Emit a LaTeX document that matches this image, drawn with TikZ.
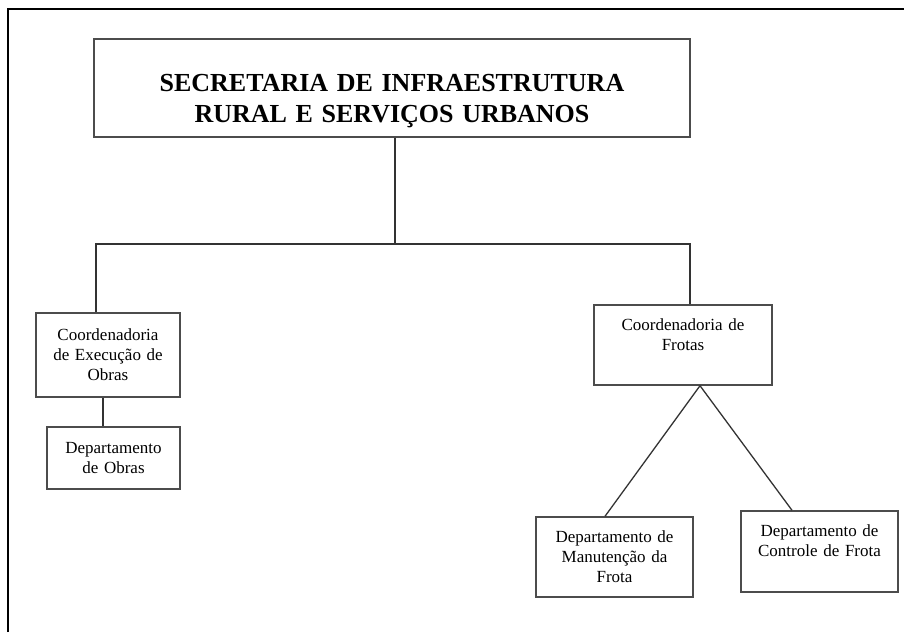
\documentclass[tikz,border=0pt]{standalone}
\usepackage{fontspec}
\setmainfont{Liberation Serif}
\usetikzlibrary{positioning}

\begin{document}
\begin{tikzpicture}[
        x=1pt, y=-1pt,
        box/.style={draw=black!70, line width=1.4pt, fill=white, inner xsep=3pt, inner ysep=0pt,
            align=center, font=\fontsize{17}{20}\selectfont},
        title/.style={box, font=\fontsize{26}{31}\selectfont\bfseries},
        link/.style={draw=black!80, line width=1.3pt}
    ]
    \useasboundingbox (0,0) rectangle (904,632);

    % Outer frame (cut at right and bottom)
    \draw[line width=2pt] (8,632) -- (8,9) -- (904,9);

    % Top box
    \node[title, text width=590pt, text height=52pt, text depth=46pt] (sec) at (392,88)
        {SECRETARIA DE INFRAESTRUTURA\\RURAL E SERVIÇOS URBANOS};

    % Left branch - Obras
    \node[box, text width=138pt, minimum height=84pt] (coe) at (108,355)
        {Coordenadoria\\de Execução de\\Obras};
    \node[box, text width=127pt, minimum height=62pt] (obras) at (113.5,458)
        {Departamento\\de Obras};

    % Right branch - Frotas
    \node[box, text width=172pt, text height=25pt, text depth=55pt] (cfr) at (683,345)
        {Coordenadoria de\\Frotas};
    \node[box, text width=151pt, minimum height=80pt] (dmf) at (614.5,557)
        {Departamento de\\Manutenção da\\Frota};
    \node[box, text width=151pt, text height=25pt, text depth=56pt] (dcf) at (819.5,551.5)
        {Departamento de\\Controle de Frota};

    % Bus
    \coordinate (busL) at (96,244);
    \coordinate (busR) at (690,244);
    \draw[link] ([xshift=3pt]sec.south) -- ([xshift=3pt]sec.south |- busL);
    \draw[link] (coe.north -| busL) -- (busL) -- (busR) -- (busR |- cfr.north);
    \draw[link] ([xshift=-5pt]coe.south) -- ([xshift=-5pt]coe.south |- obras.north);
    \draw[link] ([xshift=17pt]cfr.south) -- ([xshift=-9.5pt]dmf.north);
    \draw[link] ([xshift=17pt]cfr.south) -- ([xshift=-27.5pt]dcf.north);
\end{tikzpicture}
\end{document}
